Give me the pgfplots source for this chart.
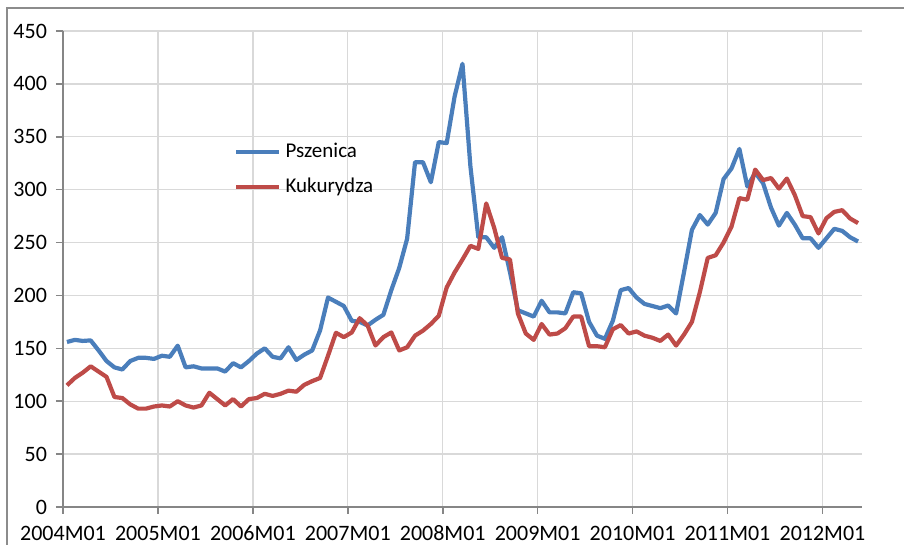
\documentclass[border=0pt]{standalone}
\usepackage{pgfplots}
\pgfplotsset{compat=1.18}
\usepackage{pgfplotstable}
\usepackage{fontspec}
\setmainfont{Carlito}
\definecolor{pszblue}{HTML}{4A7EBB}
\definecolor{kukred}{HTML}{BE4B48}
\definecolor{axgray}{HTML}{868686}
\definecolor{gridgray}{HTML}{D9D9D9}
\definecolor{framegray}{HTML}{8C8C8C}

\pgfplotstableread{
x psz kuk
0.5 156 115
1.5 158 122
2.5 157 127
3.5 157.5 133
4.5 148 128
5.5 138 123
6.5 132 104
7.5 130 103
8.5 138 97
9.5 141 93
10.5 141 93
11.5 140 95
12.5 143 96
13.5 142 95
14.5 152.5 100
15.5 132 96
16.5 133 94
17.5 131 96
18.5 131 108
19.5 131 102
20.5 128 96
21.5 136 102
22.5 132 95
23.5 138 102
24.5 145 103
25.5 150 107
26.5 142 105
27.5 140.5 107
28.5 151 110
29.5 139 109
30.5 144 115.5
31.5 148 119
32.5 167 122
33.5 198 143
34.5 194 164.7
35.5 190 160.6
36.5 176 165
37.5 175 178.5
38.5 171.6 171.6
39.5 177 152.7
40.5 181.7 160.6
41.5 205 165
42.5 226 148
43.5 253.6 151
44.5 326 162
45.5 326 166.7
46.5 307 173
47.5 345 180.8
48.5 344 207.5
49.5 388 221.7
50.5 419 234
51.5 322 246.9
52.5 255 244
53.5 255 287
54.5 245 264
55.5 255 235.5
56.5 222 234
57.5 186 183
58.5 183 164
59.5 180 158
60.5 195 173
61.5 184 163
62.5 184 164
63.5 183 169
64.5 203 180
65.5 202 180
66.5 175 152
67.5 162 152
68.5 159 151
69.5 176 168
70.5 205 172
71.5 207 164
72.5 198 166
73.5 192 162
74.5 190 160
75.5 188 157
76.5 190.5 163
77.5 183 152.6
78.5 222 163
79.5 262 175
80.5 276 203
81.5 267 235.5
82.5 278 238
83.5 310 250
84.5 320 265
85.5 338.5 292
86.5 303 290.5
87.5 316 319
88.5 306 309
89.5 283 311
90.5 266 301
91.5 278 310.5
92.5 267 295
93.5 254 275
94.5 254 274
95.5 245 258.6
96.5 254 273
97.5 263 279
98.5 261 280.6
99.5 255 272.7
100.5 251 268.4
}\datatable

\begin{document}
\begin{tikzpicture}
\begin{axis}[
  scale only axis,
  width=399.5pt, height=238pt,
  xmin=0, xmax=101, ymin=0, ymax=450,
  xtick={0,12,24,36,48,60,72,84,96},
  xticklabels={2004M01,2005M01,2006M01,2007M01,2008M01,2009M01,2010M01,2011M01,2012M01},
  ytick={0,50,...,450},
  axis lines=left,
  axis line style={-, draw=axgray, line width=0.8pt},
  tick align=outside,
  major tick length=3.5pt,
  tick style={draw=axgray, line width=0.8pt},
  xmajorgrids, ymajorgrids,
  major grid style={draw=gridgray, line width=0.7pt},
  tick label style={font=\fontsize{11}{12}\selectfont, text=black},
  /pgf/number format/assume math mode=true,
  yticklabel style={xshift=-1pt},
  xticklabel style={anchor=north, text height=7.5pt, text depth=0pt, yshift=-2pt},
  legend style={draw=none, fill=none, at={(0.214,0.773)}, anchor=north west,
    font=\fontsize{10.5}{12}\selectfont, row sep=4.5pt, inner sep=0pt,
    /tikz/every even column/.append style={column sep=0pt}},
  legend cell align=left,
  legend image code/.code={\draw[#1] plot coordinates {(0pt,0pt) (21.5pt,0pt)};},
]
\addplot[pszblue, line width=2.1pt, line join=round] table[x=x, y=psz] {\datatable};
\addlegendentry{Pszenica}
\addplot[kukred, line width=2.1pt, line join=round] table[x=x, y=kuk] {\datatable};
\addlegendentry{Kukurydza}
\end{axis}
\draw[framegray, line width=0.7pt] (-28pt,-19pt) -- (-28pt,249.5pt) -- (420.5pt,249.5pt);
\pgfresetboundingbox
\useasboundingbox (-31.5pt,-19pt) rectangle (420.5pt,253.5pt);
\end{tikzpicture}
\end{document}
